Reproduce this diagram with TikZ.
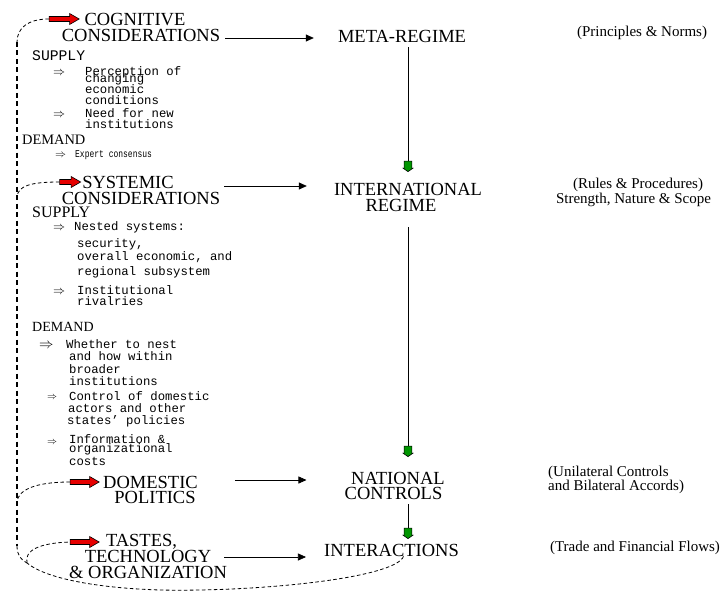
\documentclass[tikz,border=0pt]{standalone}
\usepackage{fontspec}
\usepackage{graphicx}
\setmainfont{Liberation Serif}
\newfontfamily\courfont{Liberation Mono}
\usetikzlibrary{shapes.arrows,arrows.meta,calc}
\definecolor{rd}{RGB}{230,0,0}
\definecolor{gr}{RGB}{0,150,0}
\begin{document}
\begin{tikzpicture}[x=1pt,y=-1pt,
  head/.style={font=\fontsize{18.5}{16}\selectfont, align=center, inner sep=0pt},
  note/.style={font=\fontsize{15}{13}\selectfont, inner sep=0pt},
  item/.style={font=\courfont\fontsize{12.3}{12}\selectfont, anchor=west, inner sep=0pt, text height=7pt, text depth=2pt},
  imp/.style={anchor=west, inner sep=0pt, font=\fontsize{#1}{#1}\selectfont},
  lab/.style={anchor=west, inner sep=0pt, text height=7pt, text depth=0pt},
  redarr/.style={single arrow, draw=black, fill=rd, line width=0.6pt, inner sep=2.2pt,
     single arrow head extend=3pt, single arrow tip angle=60, minimum height=#1},
  greenhead/.style={single arrow, shape border rotate=270, draw=black, fill=gr, line width=0.6pt,
     inner sep=3.6pt, single arrow head extend=1pt, single arrow tip angle=110, minimum height=10pt},
  blk/.style={line width=0.7pt, -{Triangle[length=8pt,width=7pt]}},
  vln/.style={line width=0.7pt},
  dsh/.style={dash pattern=on 3.5pt off 2.5pt, line width=0.8pt},
  trunk/.style={dash pattern=on 5pt off 3.5pt, line width=1.6pt}
]
\useasboundingbox (0,0) rectangle (722,591);

% main column
\node[head] (cog) at (141,27) {COGNITIVE\hspace*{12pt}\\CONSIDERATIONS};
\node[head] (meta) at (402,36) {META-REGIME};
\node[note] (n1) at (642,33) {(Principles \& Norms)};

\node[head] (sys) at (141,190.5) {SYSTEMIC\hspace*{26pt}\\CONSIDERATIONS};
\node[head] (intl) at (408,197) {INTERNATIONAL\\REGIME\hspace*{14pt}};
\node[note, align=center] (n2) at (638,192.5) {(Rules \& Procedures)\\Strength, Nature \& Scope\hspace*{9pt}};

\node[head, font=\fontsize{18.5}{15}\selectfont] (dom) at (155,489.5) {DOMESTIC\hspace*{9pt}\\POLITICS};
\node[head, font=\fontsize{18.5}{15}\selectfont] (natl) at (398,485.5) {NATIONAL\\CONTROLS\hspace*{9pt}};
\node[note, align=left, anchor=west, font=\fontsize{15}{14}\selectfont] (n3) at (548,480) {(Unilateral Controls\\and Bilateral Accords)};

\node[head] (tastes) at (148,556) {TASTES,\hspace*{13pt}\\TECHNOLOGY\hspace*{8pt}\\\& ORGANIZATION};
\node[head] (inter) at (391.5,550) {INTERACTIONS};
\node[note] (n4) at (635,548) {(Trade and Financial Flows)};

% red arrows
\node[redarr=30pt] (cogred) at (62,19) {};
\node[redarr=21pt] (sysred) at (68,182) {};
\node[redarr=29pt] (domred) at (82.5,482) {};
\node[redarr=29pt] (tasred) at (82.5,542) {};

% green heads
\node[greenhead] (g1) at (408,165) {};
\node[greenhead] (g2) at (408,450) {};
\node[greenhead] (g3) at (408,532) {};

% horizontal arrows
\draw[blk] ($(cog.east)+(5,11)$) -- ($(meta.west)+(-24,2)$);
\draw[blk] ($(sys.east)+(4,-4.5)$) -- ($(intl.west)+(-27,-11)$);
\draw[blk] ($(dom.east)+(28,-9.5)$) -- ($(natl.west)+(-38,-5.5)$);
\draw[blk] ($(tastes.east)+(-3,1)$) -- ($(inter.west)+(-18,7)$);

% vertical connectors
\draw[vln] ($(g1.north |- meta.south)+(0,5)$) -- (g1.north);
\draw[vln] ($(g2.north |- intl.south)+(0,16)$) -- (g2.north);
\draw[vln] ($(g3.north |- natl.south)+(0,5)$) -- (g3.north);

% cognitive block
\node[lab, font=\courfont\fontsize{14.7}{15}\selectfont, anchor=west] (s1) at (32,57) {SUPPLY};
\node[imp=13] (a1) at (53,73) {$\Rightarrow$};
\node[item] (t1) at (85,73) {Perception of};
\node[item] (t2) at (85,80) {changing};
\node[item] (t3) at (85,91) {economic};
\node[item] (t4) at (85,102) {conditions};
\node[imp=13] (a2) at (53,115) {$\Rightarrow$};
\node[item] (t5) at (85,115) {Need for new};
\node[item] (t6) at (85,126) {institutions};
\node[lab, font=\fontsize{14.4}{15}\selectfont] (d1) at (22,141) {DEMAND};
\node[imp=11] (a3) at (55,155) {$\Rightarrow$};
\node[item] (t7) at (75,155) {\scalebox{0.65}[0.85]{Expert consensus}};

% systemic supply block
\node[lab, font=\fontsize{16}{16}\selectfont] (s2) at (32,214) {SUPPLY};
\node[imp=12] (a4) at (53,228) {$\Rightarrow$};
\node[item] (u1) at (74,228) {Nested systems:};
\node[item] (u2) at (77,245) {security,};
\node[item] (u3) at (77,258) {overall economic, and};
\node[item] (u4) at (77,273) {regional subsystem};
\node[imp=12] (a5) at (53,292) {$\Rightarrow$};
\node[item] (u5) at (77,292) {Institutional};
\node[item] (u6) at (77,303) {rivalries};

% systemic demand block
\node[lab, font=\fontsize{14}{14}\selectfont] (d2) at (32,328) {DEMAND};
\node[imp=14] (a6) at (39,346) {$\Rightarrow$};
\node[item] (v1) at (66,346) {Whether to nest};
\node[item] (v2) at (69,358) {and how within};
\node[item] (v3) at (69,371) {broader};
\node[item] (v4) at (69,383) {institutions};
\node[imp=10] (a7) at (47,398) {$\Rightarrow$};
\node[item] (v5) at (69,398) {Control of domestic};
\node[item] (v6) at (68,410) {actors and other};
\node[item] (v7) at (67,422) {states’ policies};
\node[imp=10] (a8) at (47,443) {$\Rightarrow$};
\node[item] (v8) at (69,441) {Information \&};
\node[item] (v9) at (69,450) {organizational};
\node[item] (v10) at (69,463) {costs};

% dashed feedback lines
\coordinate (ttop) at (17,42);
\coordinate (tbot) at (17,546);
\coordinate (junc) at (27,563);
\draw[trunk] (ttop) -- (tbot);
\draw[dsh] (cogred.west) .. controls (28,19) and (17,28) .. (ttop);
\draw[dsh] (sysred.west) .. controls (30,182) and (18,186) .. (17,197);
\draw[dsh] (domred.west) .. controls (35,482) and (18,490) .. (17,502);
\draw[dsh] (tbot) .. controls (17,555) and (21,560) .. (junc);
\draw[dsh] (junc) .. controls (24,550) and (40,543) .. (tasred.west);
\draw[dsh] ($(inter.south)+(12,0)$) .. controls (395,578) and (260,592) .. (160,590)
   .. controls (95,588) and (45,578) .. (junc);
\end{tikzpicture}
\end{document}
